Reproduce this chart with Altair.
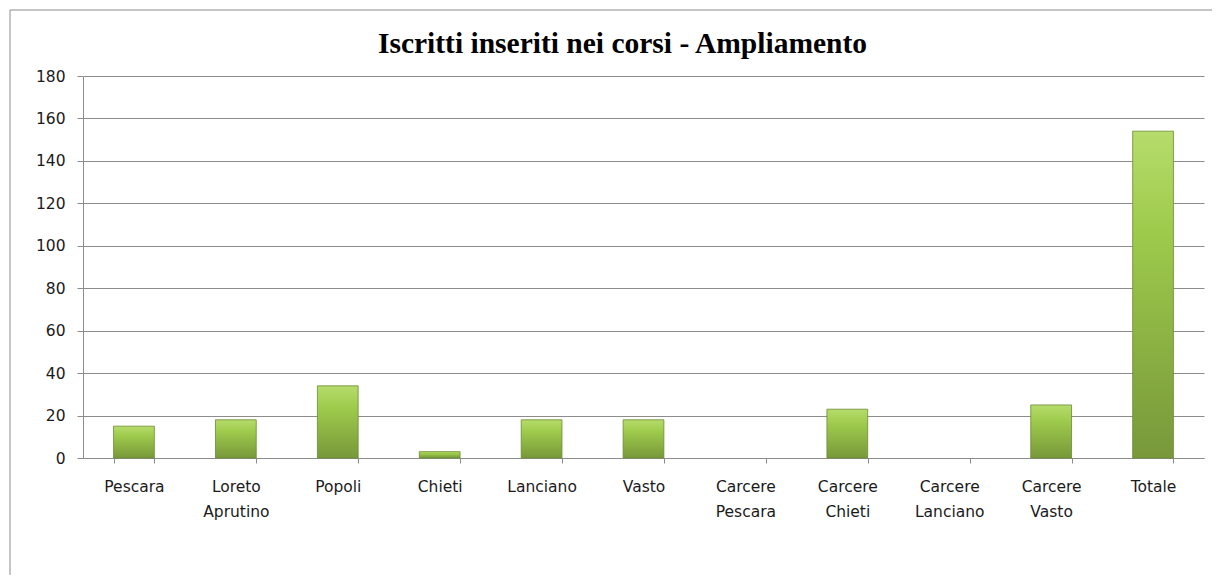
import altair as alt
import pandas as pd

title_text = "Iscritti inseriti nei corsi - Ampliamento"
categories = ["Pescara", "Loreto Aprutino", "Popoli", "Chieti", "Lanciano", "Vasto",
              "Carcere Pescara", "Carcere Chieti", "Carcere Lanciano", "Carcere Vasto", "Totale"]
values = [15, 18, 34, 3, 18, 18, 0, 23, 0, 25, 154]
y_ticks = [0, 20, 40, 60, 80, 100, 120, 140, 160, 180]

df = pd.DataFrame({"categoria": categories, "iscritti": values})
tdf = pd.DataFrame({"t": [title_text]})

W, H = 1121, 382

xscale = alt.Scale(domain=categories, paddingInner=0.6, paddingOuter=0.3)

frame = alt.Chart(tdf).mark_rect(
    fill=None, stroke="#8c8c8c", strokeWidth=1, clip=False
).encode(
    x=alt.value(-73), x2=alt.value(W + 40),
    y=alt.value(-66), y2=alt.value(H + 140)
)

title = alt.Chart(tdf).mark_text(
    font="Liberation Serif", fontSize=29.5, fontWeight="bold", color="#000",
    align="center", baseline="middle", clip=False
).encode(
    text="t:N", x=alt.value(W / 2 - 21), y=alt.value(-32)
)

bars = alt.Chart(df).transform_filter("datum.iscritti > 0").mark_bar(
    fill=alt.Gradient(
        gradient="linear",
        stops=[alt.GradientStop(color="#b6dc6c", offset=0),
               alt.GradientStop(color="#9ecb4c", offset=0.3),
               alt.GradientStop(color="#78983a", offset=1)],
        x1=0, x2=0, y1=0, y2=1),
    stroke="#6b8a30", strokeWidth=0.8
).encode(
    x=alt.X("categoria:N", sort=categories, scale=xscale,
            axis=alt.Axis(title=None, labelAngle=0, tickBand="extent", grid=False,
                          labelExpr="split(datum.label, ' ')",
                          labelFont="DejaVu Sans", labelFontSize=15.5, labelColor="#1a1a1a",
                          labelPadding=16, labelLineHeight=25,
                          domainColor="#8c8c8c", tickColor="#8c8c8c", tickSize=5,
                          labelBaseline="top")),
    y=alt.Y("iscritti:Q", scale=alt.Scale(domain=[0, 180], nice=False),
            axis=alt.Axis(title=None, values=y_ticks, grid=True, gridColor="#8c8c8c",
                          labelFont="DejaVu Sans", labelFontSize=15.5, labelColor="#1a1a1a",
                          labelPadding=12, domainColor="#8c8c8c", tickColor="#8c8c8c",
                          tickSize=6))
)

chart = alt.layer(bars, frame, title).properties(
    width=W, height=H,
    autosize=alt.AutoSizeParams(type="none"),
    padding={"left": 75, "top": 68, "right": 8, "bottom": 117}
).configure_view(stroke=None)

chart.save("out.html", embed_options={"renderer": "svg", "actions": False})
